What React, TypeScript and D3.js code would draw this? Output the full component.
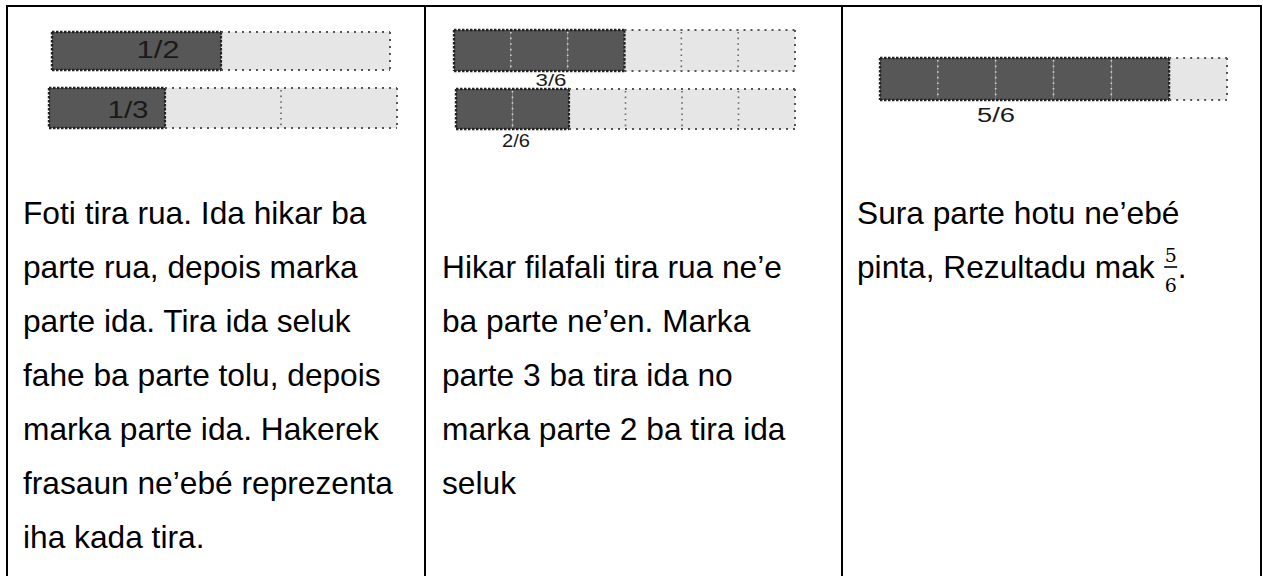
import React, { useEffect, useRef } from 'react';
import * as d3 from 'd3';

// fraction strips
const stripLabels = ['1/2', '1/3', '3/6', '2/6', '5/6'];
const stripParts = [2, 3, 6, 6, 6];
const stripShaded = [1, 1, 3, 2, 5];

// text in each table column (one entry per line)
const col1Lines = [
  'Foti tira rua. Ida hikar ba',
  'parte rua, depois marka',
  'parte ida. Tira ida seluk',
  'fahe ba parte tolu, depois',
  'marka parte ida. Hakerek',
  'frasaun ne’ebé reprezenta',
  'iha kada tira.',
];
const col2Lines = [
  'Hikar filafali tira rua ne’e',
  'ba parte ne’en. Marka',
  'parte 3 ba tira ida no',
  'marka parte 2 ba tira ida',
  'seluk',
];
const col3Lines = ['Sura parte hotu ne’ebé', 'pinta, Rezultadu mak'];
const resultFraction = ['5', '6'];

// layout of each strip: box, label centre/baseline, label size and stretched width
const stripBoxes = [
  { x0: 52, x1: 390, y: 32, h: 38, lx: 158, ly: 58, fs: 23, lw: 43 },
  { x0: 49, x1: 397, y: 88, h: 40, lx: 128, ly: 118, fs: 24, lw: 41 },
  { x0: 454, x1: 795, y: 30, h: 41, lx: 551, ly: 86, fs: 17, lw: 31 },
  { x0: 456, x1: 795, y: 89, h: 40, lx: 516, ly: 147, fs: 19, lw: 28 },
  { x0: 880, x1: 1227, y: 58, h: 42, lx: 996, ly: 122, fs: 20, lw: 38 },
];

const W = 1263;
const H = 576;
const colX = [7, 425, 842, 1261];
const textX = [23, 442, 857];
const lineGap = 54;
const firstBase = 224;
const bodyFont = 'Liberation Sans, Arial, sans-serif';
const bodySize = 31.7;

const App = () => {
  const svgRef = useRef<SVGSVGElement>(null);

  useEffect(() => {
    const svg = d3.select(svgRef.current);
    svg.selectAll('*').remove();

    svg.append('rect').attr('width', W).attr('height', H).attr('fill', '#fff');

    // strips
    stripLabels.forEach((label, i) => {
      const b = stripBoxes[i];
      const x = d3.scaleLinear().domain([0, stripParts[i]]).range([b.x0, b.x1]);
      const g = svg.append('g');
      const cells = d3.range(stripParts[i]);

      g.selectAll('rect.cell')
        .data(cells)
        .join('rect')
        .attr('x', d => x(d))
        .attr('y', b.y)
        .attr('width', d => x(d + 1) - x(d))
        .attr('height', b.h)
        .attr('fill', d => (d < stripShaded[i] ? '#575757' : '#e6e6e6'));

      // inner dividers
      g.selectAll('line.div')
        .data(cells.slice(1))
        .join('line')
        .attr('x1', d => x(d))
        .attr('x2', d => x(d))
        .attr('y1', b.y + 2)
        .attr('y2', b.y + b.h - 2)
        .attr('stroke', d => (d < stripShaded[i] ? '#d0d0d0' : '#666'))
        .attr('stroke-width', 1.6)
        .attr('stroke-dasharray', '1.6,4');

      // outline: darker along the shaded run
      const xs = x(stripShaded[i]);
      const seg = (x1: number, y1: number, x2: number, y2: number, c: string, w: number) =>
        g.append('line')
          .attr('x1', x1).attr('y1', y1).attr('x2', x2).attr('y2', y2)
          .attr('stroke', c).attr('stroke-width', w)
          .attr('stroke-dasharray', c === '#222' ? '2.5,1.5' : '2,5');
      seg(b.x0, b.y, xs, b.y, '#222', 2.4);
      seg(b.x0, b.y + b.h, xs, b.y + b.h, '#222', 2.4);
      seg(b.x0, b.y, b.x0, b.y + b.h, '#222', 2.4);
      seg(xs, b.y, xs, b.y + b.h, '#222', 2.2);
      if (stripShaded[i] < stripParts[i]) {
        seg(xs, b.y, b.x1, b.y, '#555', 2);
        seg(xs, b.y + b.h, b.x1, b.y + b.h, '#555', 2);
        seg(b.x1, b.y, b.x1, b.y + b.h, '#555', 2);
      }

      g.append('text')
        .attr('x', b.lx - b.lw / 2)
        .attr('y', b.ly)
        .attr('font-family', bodyFont)
        .attr('font-size', b.fs)
        .attr('textLength', b.lw)
        .attr('lengthAdjust', 'spacingAndGlyphs')
        .attr('fill', '#1a1a1a')
        .text(label);
    });

    // table grid
    const grid = svg.append('g').attr('stroke', '#000').attr('stroke-width', 2);
    grid.append('line').attr('x1', colX[0] - 1).attr('x2', colX[3] + 1).attr('y1', 6).attr('y2', 6);
    colX.forEach(cx => {
      grid.append('line').attr('x1', cx).attr('x2', cx).attr('y1', 5).attr('y2', H);
    });

    // paragraphs
    const para = (lines: string[], x0: number, startLine: number) => {
      svg.append('g')
        .selectAll('text')
        .data(lines)
        .join('text')
        .attr('x', x0)
        .attr('y', (_, k) => firstBase + (startLine + k) * lineGap)
        .attr('font-family', bodyFont)
        .attr('font-size', bodySize)
        .attr('fill', '#000')
        .text(d => d);
    };
    para(col1Lines, textX[0], 0);
    para(col2Lines, textX[1], 1);
    para(col3Lines, textX[2], 0);

    // stacked fraction after the last line of column 3
    const probe = svg.append('text')
      .attr('font-family', bodyFont)
      .attr('font-size', bodySize)
      .text(col3Lines[1]);
    const tw = (probe.node() as SVGTextElement).getComputedTextLength();
    probe.remove();
    const fx = textX[2] + tw + 16;
    const base = firstBase + lineGap;
    const fg = svg.append('g')
      .attr('font-family', 'DejaVu Serif, Liberation Serif, serif')
      .attr('font-size', 19)
      .attr('text-anchor', 'middle');
    fg.append('text').attr('x', fx).attr('y', base - 16).text(resultFraction[0]);
    fg.append('line')
      .attr('x1', fx - 6.5).attr('x2', fx + 6.5)
      .attr('y1', base - 11).attr('y2', base - 11)
      .attr('stroke', '#000').attr('stroke-width', 1.6);
    fg.append('text').attr('x', fx).attr('y', base + 14).text(resultFraction[1]);
    svg.append('text')
      .attr('x', fx + 7)
      .attr('y', base)
      .attr('font-family', bodyFont)
      .attr('font-size', bodySize)
      .text('.');
  }, []);

  return (
    <svg
      ref={svgRef}
      width={W}
      height={H}
      style={{ position: 'absolute', left: 0, top: 0 }}
    />
  );
};

export default App;
